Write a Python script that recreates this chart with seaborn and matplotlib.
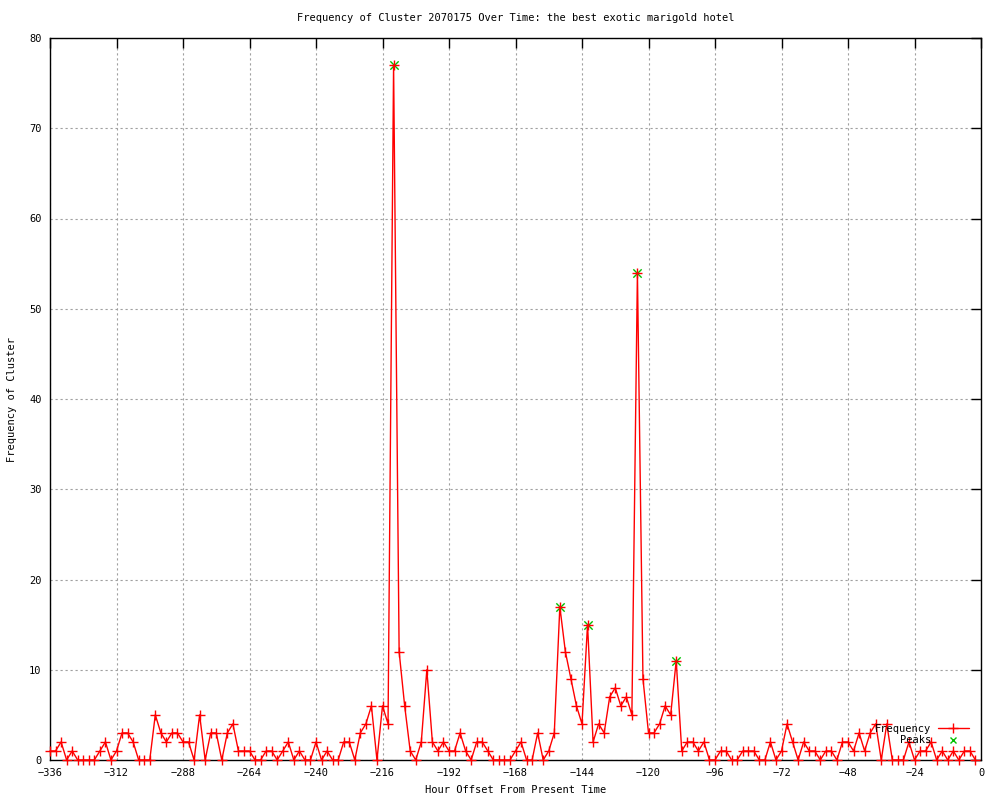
import numpy as np
import pandas as pd
import seaborn as sns
import matplotlib
matplotlib.use("Agg")
import matplotlib.pyplot as plt
from matplotlib.lines import Line2D

# Hourly offsets (every 2 hours) and cluster frequency
hours = np.arange(-336, 0, 2)
frequency = [
    1, 1, 2, 0, 1, 0, 0, 0, 0, 1,
    2, 0, 1, 3, 3, 2, 0, 0, 0, 5,
    3, 2, 3, 3, 2, 2, 0, 5, 0, 3,
    3, 0, 3, 4, 1, 1, 1, 0, 0, 1,
    1, 0, 1, 2, 0, 1, 0, 0, 2, 0,
    1, 0, 0, 2, 2, 0, 3, 4, 6, 0,
    6, 4, 77, 12, 6, 1, 0, 2, 10, 2,
    1, 2, 1, 1, 3, 1, 0, 2, 2, 1,
    0, 0, 0, 0, 1, 2, 0, 0, 3, 0,
    1, 3, 17, 12, 9, 6, 4, 15, 2, 4,
    3, 7, 8, 6, 7, 5, 54, 9, 3, 3,
    4, 6, 5, 11, 1, 2, 2, 1, 2, 0,
    0, 1, 1, 0, 0, 1, 1, 1, 0, 0,
    2, 0, 1, 4, 2, 0, 2, 1, 1, 0,
    1, 1, 0, 2, 2, 1, 3, 1, 3, 4,
    0, 4, 0, 0, 0, 2, 0, 1, 1, 2,
    0, 1, 0, 1, 0, 1, 1, 0,
]
peak_hours = [-212, -152, -142, -124, -110]
peak_values = [77, 17, 15, 54, 11]

x_ticks = list(range(-336, 1, 24))
y_ticks = list(range(0, 81, 10))

df = pd.DataFrame({"hour": hours, "freq": frequency})
peaks = pd.DataFrame({"hour": peak_hours, "freq": peak_values})

sns.set_theme(style="white")
plt.rcParams["font.family"] = ["DejaVu Sans Mono"]
plt.rcParams["font.size"] = 7.5
plt.rcParams["text.color"] = "black"
plt.rcParams["axes.labelcolor"] = "black"
plt.rcParams["xtick.color"] = "black"
plt.rcParams["ytick.color"] = "black"

fig = plt.figure(figsize=(10, 8), dpi=100)
ax = fig.add_axes([0.05, 0.05, 0.931, 0.9025])

# peaks drawn as green crosses under the red frequency markers
sns.scatterplot(data=peaks, x="hour", y="freq", marker="x", color="#00c000",
                s=36, linewidth=1, ax=ax, zorder=3, clip_on=False, legend=False)
sns.lineplot(data=df, x="hour", y="freq", color="#ff0000", linewidth=1,
             marker="+", markersize=6.5, markeredgewidth=1, markeredgecolor="#ff0000",
             ax=ax, zorder=4, clip_on=False, legend=False)

ax.set_xlim(-336, 0)
ax.set_ylim(0, 80)
ax.set_xticks(x_ticks)
ax.set_yticks(y_ticks)

ax.set_title("Frequency of Cluster 2070175 Over Time: the best exotic marigold hotel",
             fontsize=7.5, pad=12)
ax.set_xlabel("Hour Offset From Present Time", fontsize=7.5, labelpad=5)
ax.set_ylabel("Frequency of Cluster", fontsize=7.5, labelpad=9)

# gnuplot-like box with inward mirrored ticks
for spine in ["top", "right", "left", "bottom"]:
    ax.spines[spine].set_visible(True)
    ax.spines[spine].set_color("black")
    ax.spines[spine].set_linewidth(1)
ax.tick_params(direction="in", length=7, width=1, color="black",
               top=True, right=True, labelsize=7.5, pad=6)

ax.grid(True, linestyle=(0, (2, 2.5)), linewidth=0.8, color="#a0a0a0")
ax.set_axisbelow(True)

handles = [
    Line2D([], [], color="#ff0000", linewidth=1, marker="+", markersize=6.5,
           markeredgewidth=1),
    Line2D([], [], color="#00c000", linestyle="none", marker="x", markersize=5,
           markeredgewidth=1),
]
ax.legend(handles, ["Frequency", "Peaks"], loc="lower right",
          bbox_to_anchor=(0.995, 0.01), frameon=False, markerfirst=False,
          handlelength=3.0, handletextpad=0.6, labelspacing=0.15,
          fontsize=7.5, borderpad=0.2)

fig.savefig("out.png", dpi=100, facecolor="white")
